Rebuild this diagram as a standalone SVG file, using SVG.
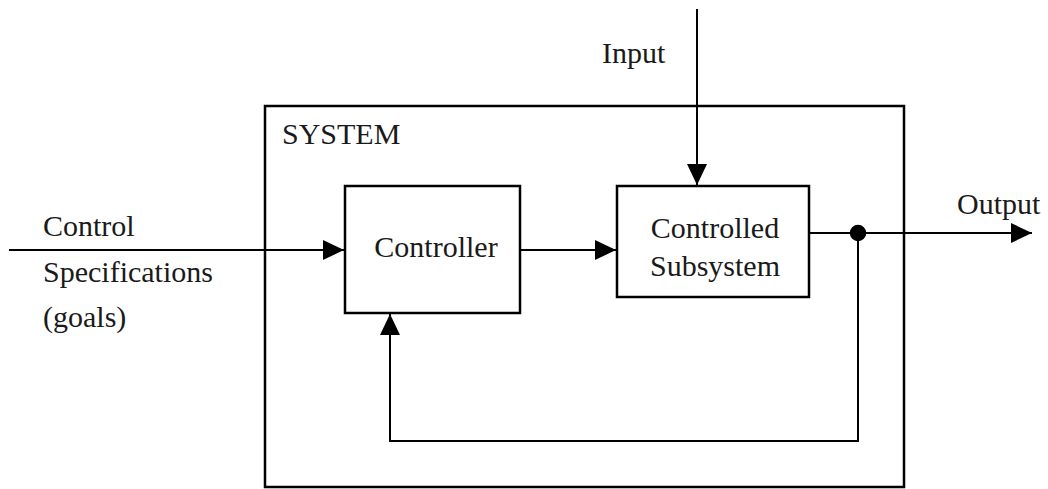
<svg xmlns="http://www.w3.org/2000/svg" width="1048" height="489" viewBox="0 0 1048 489">
<defs>
<style>
.box{fill:none;stroke:#000;stroke-width:2.5}
.ln{fill:none;stroke:#000;stroke-width:2}
.t{font-size:30px;fill:#1a1a1a}
</style>
<marker id="ah" markerWidth="21" markerHeight="20" refX="21" refY="10" orient="auto" markerUnits="userSpaceOnUse">
<path d="M0,0 L21,10 L0,20 Z" fill="#000"/>
</marker>
</defs>
<rect width="1048" height="489" fill="#fff"/>
<g font-family="'Liberation Serif', 'DejaVu Serif', 'Times New Roman', serif">
<g id="system">
<rect class="box" x="265" y="106" width="639" height="381"/>
<text class="t" x="282" y="144">SYSTEM</text>
</g>
<g id="controller">
<rect class="box" x="345" y="186" width="175" height="127"/>
<text class="t" x="436" y="257" text-anchor="middle">Controller</text>
</g>
<g id="subsystem">
<rect class="box" x="617" y="186" width="192" height="111"/>
<text class="t" x="715" y="238" text-anchor="middle">Controlled</text>
<text class="t" x="715" y="276" text-anchor="middle">Subsystem</text>
</g>
<g id="labels">
<text class="t" x="43" y="236">Control</text>
<text class="t" x="43" y="282">Specifications</text>
<text class="t" x="43" y="327">(goals)</text>
<text class="t" x="602" y="63">Input</text>
<text class="t" x="957" y="214">Output</text>
</g>
</g>
<g id="connectors">
<line class="ln" x1="9" y1="250" x2="344" y2="250" marker-end="url(#ah)"/>
<line class="ln" x1="697" y1="9" x2="697" y2="185" marker-end="url(#ah)"/>
<line class="ln" x1="521" y1="250" x2="616" y2="250" marker-end="url(#ah)"/>
<line class="ln" x1="810" y1="233" x2="1032" y2="233" marker-end="url(#ah)"/>
<polyline class="ln" points="858,233 858,441 390,441 390,314" marker-end="url(#ah)"/>
<circle cx="858" cy="233" r="7.5" fill="#000" stroke="#000" stroke-width="1.5"/>
</g>
</svg>
